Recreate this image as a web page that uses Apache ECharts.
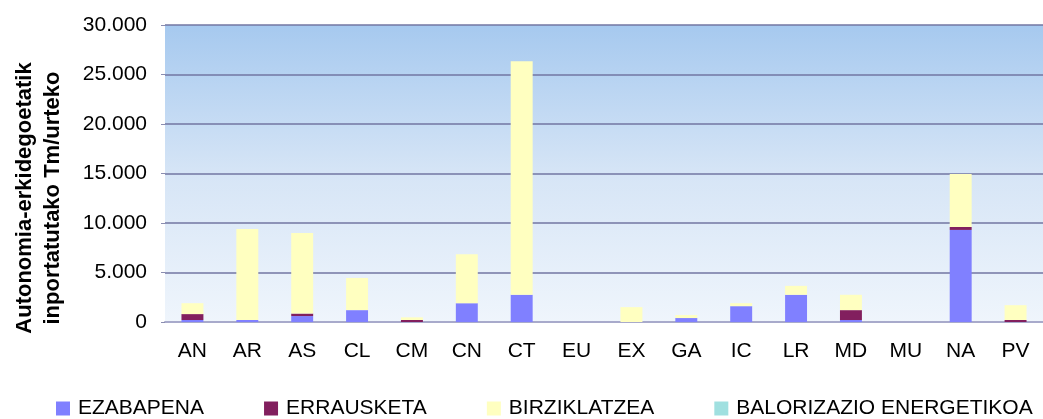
<!DOCTYPE html>
<html>
<head>
<meta charset="utf-8">
<script src="https://cdn.jsdelivr.net/npm/echarts@6/dist/echarts.min.js"></script>
<style>
  html, body { margin: 0; padding: 0; background: #fff; }
  #chart { width: 1043px; height: 419px; }
</style>
</head>
<body>
<div id="chart"></div>
<script>
// autonomia-erkidegoak
const regions = ['AN', 'AR', 'AS', 'CL', 'CM', 'CN', 'CT', 'EU', 'EX', 'GA', 'IC', 'LR', 'MD', 'MU', 'NA', 'PV']

// Tm/urteko, balioak irudetik irakurrita
const ezabapena   = [200, 200, 600, 1200, 0, 1900, 2750, 0, 0, 400, 1600, 2750, 200, 0, 9300, 0]
const errausketa  = [600, 0, 250, 0, 200, 0, 0, 0, 0, 0, 0, 0, 1000, 0, 300, 200]
const birziklatzea = [1100, 9200, 8150, 3250, 270, 4950, 23600, 0, 1500, 300, 300, 900, 1550, 0, 5350, 1500]
const balorizazioa = [0, 0, 0, 0, 0, 0, 0, 0, 0, 0, 0, 0, 0, 0, 0, 0]

const yTicks = { min: 0, max: 30000, interval: 5000 }

const font = 'Liberation Sans, Arial, sans-serif'

const chart = echarts.init(document.getElementById('chart'))

const mkSeries = (name, data, color) => ({
  name, type: 'bar', stack: 'total', data,
  barWidth: '40%',
  itemStyle: { color },
  emphasis: { disabled: true }
})

chart.setOption({
  animation: false,
  backgroundColor: '#fff',
  textStyle: { fontFamily: font },
  grid: {
    left: 165, right: 0, top: 25, bottom: 97,
    show: true,
    borderWidth: 0,
    backgroundColor: {
      type: 'linear', x: 0, y: 0, x2: 0, y2: 1,
      colorStops: [
        { offset: 0, color: '#a6c9ef' },
        { offset: 0.5, color: '#d6e5f6' },
        { offset: 1, color: '#eff5fc' }
      ]
    }
  },
  legend: {
    left: 56, top: 398, padding: 0,
    icon: 'rect',
    itemWidth: 14, itemHeight: 14, itemGap: 60,
    textStyle: { fontSize: 21, color: '#000', fontFamily: font, padding: [0, 0, 0, 3] },
    data: ['EZABAPENA', 'ERRAUSKETA', 'BIRZIKLATZEA', 'BALORIZAZIO ENERGETIKOA']
  },
  graphic: [{
    type: 'text',
    x: 39, y: 198,
    rotation: Math.PI / 2,
    style: {
      text: 'Autonomia-erkidegoetatik\ninportatutako Tm/urteko',
      font: 'bold 22px ' + font,
      fill: '#000',
      align: 'center',
      verticalAlign: 'middle',
      lineHeight: 28
    }
  }],
  xAxis: {
    type: 'category',
    data: regions,
    axisLine: { lineStyle: { color: '#a8aacb', width: 2 } },
    axisTick: { show: false },
    axisLabel: { color: '#000', fontSize: 21, margin: 19, interval: 0 }
  },
  yAxis: {
    type: 'value',
    ...yTicks,
    axisLine: { show: false },
    axisTick: { show: true, length: 4, lineStyle: { color: '#8a8db0' } },
    axisLabel: {
      color: '#000', fontSize: 21, margin: 18,
      formatter: v => v.toLocaleString('de-DE')
    },
    splitLine: { lineStyle: { color: '#7276a2', width: 1.5 } }
  },
  series: [
    mkSeries('EZABAPENA', ezabapena, '#8080ff'),
    mkSeries('ERRAUSKETA', errausketa, '#821f5e'),
    mkSeries('BIRZIKLATZEA', birziklatzea, '#ffffc0'),
    mkSeries('BALORIZAZIO ENERGETIKOA', balorizazioa, '#a0e0e0')
  ]
})
</script>
</body>
</html>
